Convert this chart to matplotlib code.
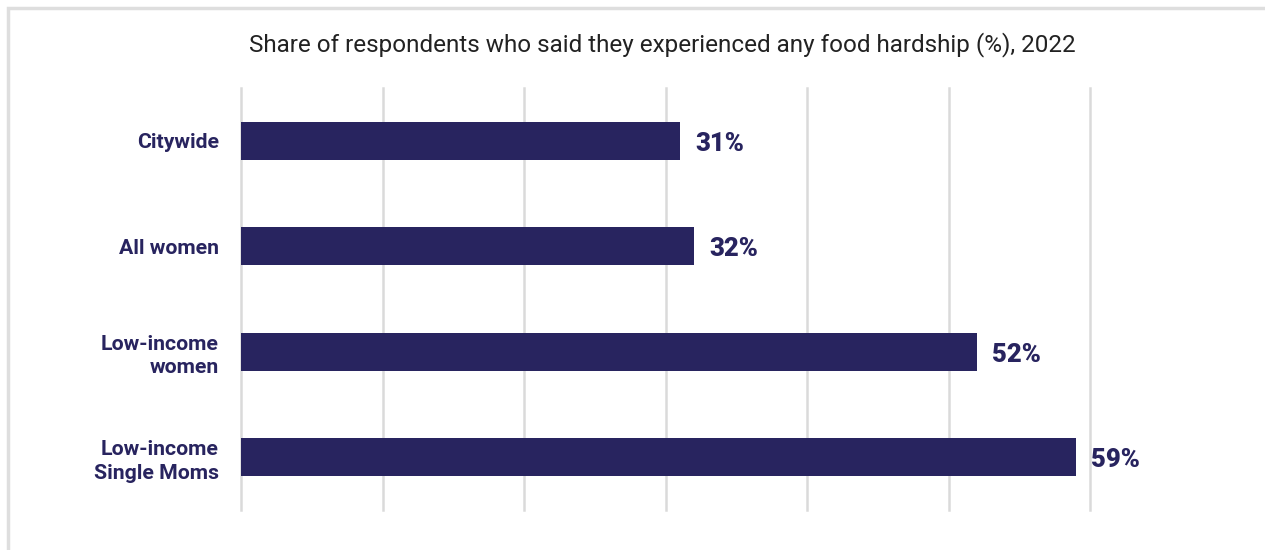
import matplotlib.pyplot as plt
from matplotlib.patches import Rectangle

# food hardship shares, 2022
groups = ["Citywide", "All women", "Low-income\nwomen", "Low-income\nSingle Moms"]
shares = [31, 32, 52, 59]

navy = "#28245f"
grid_grey = "#dadada"

plt.rcParams["font.family"] = ["Roboto", "DejaVu Sans"]

W, H = 1265, 550
fig = plt.figure(figsize=(W / 100, H / 100), dpi=100)
ax = fig.add_axes([241 / W, 1 - 510 / H, (1090 - 241) / W, (510 - 88) / H])

# light frame around the chart card
fig.patches.append(Rectangle((8 / W, -0.1), 1.2, 1 - 8 / H + 0.1,
                             transform=fig.transFigure, fill=False,
                             edgecolor="#dedede", linewidth=2.5))

ypos = list(range(len(groups)))
ax.barh(ypos, shares, height=0.36, color=navy, zorder=2)

for y, v in zip(ypos, shares):
    ax.text(v + 1.1, y + 0.03, f"{v}%", va="center", ha="left",
            fontsize=18.5, fontweight="heavy", color=navy)

ax.set_xlim(0, 60)
ax.set_ylim(len(groups) - 0.5, -0.5)
ax.set_xticks(range(0, 61, 10))
ax.xaxis.grid(True, color=grid_grey, linewidth=1.8, zorder=0)
for gl in ax.get_xgridlines():
    gl.set_clip_on(False)
ax.tick_params(axis="x", length=0, labelbottom=False)
ax.tick_params(axis="y", length=0, pad=16)
ax.set_yticks(ypos)
ax.set_yticklabels(groups, fontsize=15.3, fontweight="bold", color=navy,
                   linespacing=1.3)
for s in ax.spines.values():
    s.set_visible(False)

fig.text(662 / W, 1 - 45 / H,
         "Share of respondents who said they experienced any food hardship (%), 2022",
         ha="center", va="center", fontsize=17.5, color="#222222")

fig.savefig("out.png", dpi=100, facecolor="white")
